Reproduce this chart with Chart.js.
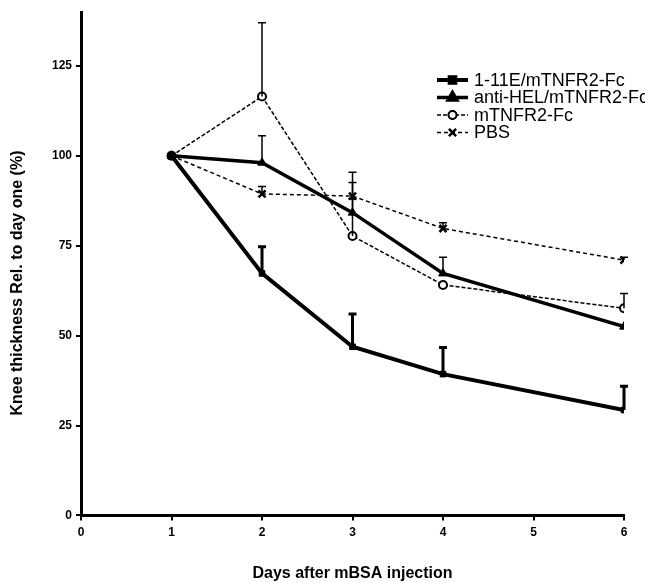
<!DOCTYPE html>
<html>
<head>
<meta charset="utf-8">
<script src="https://cdn.jsdelivr.net/npm/chart.js@4.4.1/dist/chart.umd.min.js"></script>
<style>
  html, body { margin: 0; padding: 0; background: #fff; }
  #wrap { width: 645px; height: 583px; }
</style>
</head>
<body>
<div id="wrap"><canvas id="chart" width="645" height="583"></canvas></div>
<script>
// days measured
const days = [1, 2, 3, 4, 6];

// knee thickness relative to day one (%)
const antibodyFusion = [100, 67.3, 46.9, 39.3, 29.3];
const antiHelFusion = [100, 98.1, 84.2, 67.3, 52.5];
const fusionOnly = [100, 116.5, 77.7, 64.1, 57.6];
const pbs = [100, 89.4, 88.8, 79.8, 71];

// upper end of each error bar (null = none drawn)
const antibodyFusionErr = [null, 74.7, 56, 46.7, 35.9];
const antiHelFusionErr = [null, 105.6, 92.6, 71.8, null];
const fusionOnlyErr = [null, 137, 88, null, 61.7];
const pbsErr = [null, 91.5, 95.4, 81.4, 71.8];

const yTicks = [0, 25, 50, 75, 100, 125];
const xTicks = [0, 1, 2, 3, 4, 5, 6];

const seriesNames = ['1-11E/mTNFR2-Fc', 'anti-HEL/mTNFR2-Fc', 'mTNFR2-Fc', 'PBS'];
const yTitle = 'Knee thickness Rel. to day one (%)';

const FONT = '"Liberation Sans", Arial, sans-serif';
const toPoints = vals => vals.map((v, i) => ({ x: days[i], y: v }));

const errorBars = {
  id: 'errorBars',
  afterDatasetsDraw(chart) {
    const { ctx, scales: { x, y } } = chart;
    chart.data.datasets.forEach(ds => {
      ds.errTop.forEach((top, i) => {
        if (top == null) return;
        const px = x.getPixelForValue(days[i]);
        const py = y.getPixelForValue(ds.data[i].y);
        const pt = y.getPixelForValue(top);
        ctx.save();
        ctx.strokeStyle = '#000';
        ctx.lineWidth = ds.errWidth;
        ctx.beginPath();
        ctx.moveTo(px, py);
        ctx.lineTo(px, pt);
        ctx.moveTo(px - 4, pt);
        ctx.lineTo(px + 4, pt);
        ctx.stroke();
        ctx.restore();
      });
    });
  }
};

// legend drawn as line + marker + label, and the y title sitting a bit low like the original
const extras = {
  id: 'extras',
  afterDraw(chart) {
    const { ctx } = chart;
    const x0 = 437, x1 = 468, rowY = [80, 97.5, 115, 132.5];
    chart.data.datasets.forEach((ds, i) => {
      const yy = rowY[i];
      ctx.save();
      ctx.strokeStyle = '#000';
      ctx.lineWidth = ds.borderWidth;
      ctx.setLineDash(ds.borderDash || []);
      ctx.beginPath();
      ctx.moveTo(x0, yy);
      ctx.lineTo(x1, yy);
      ctx.stroke();
      ctx.setLineDash([]);
      Chart.helpers.drawPoint(ctx, {
        pointStyle: ds.pointStyle,
        radius: ds.pointRadius,
        borderWidth: ds.pointBorderWidth,
        rotation: 0
      }, (x0 + x1) / 2, yy);
      ctx.fillStyle = ds.pointBackgroundColor;
      ctx.strokeStyle = '#000';
      ctx.lineWidth = ds.pointBorderWidth;
      if (ds.pointStyle !== 'crossRot') ctx.fill();
      ctx.stroke();
      ctx.fillStyle = '#000';
      ctx.font = '18px ' + FONT;
      ctx.textBaseline = 'middle';
      ctx.fillText(ds.label, x1 + 6, yy + 1);
      ctx.restore();
    });

    ctx.save();
    ctx.translate(18, 283);
    ctx.rotate(-Math.PI / 2);
    ctx.fillStyle = '#000';
    ctx.font = 'bold 16px ' + FONT;
    ctx.textAlign = 'center';
    ctx.textBaseline = 'middle';
    ctx.fillText(yTitle, 0, 0);
    ctx.restore();
  }
};

new Chart(document.getElementById('chart'), {
  type: 'line',
  data: {
    datasets: [
      {
        label: seriesNames[0],
        data: toPoints(antibodyFusion),
        errTop: antibodyFusionErr,
        errWidth: 3,
        borderColor: '#000',
        borderWidth: 4,
        pointStyle: 'rect',
        pointRadius: 4,
        pointBorderWidth: 1,
        pointBackgroundColor: '#000',
        pointBorderColor: '#000'
      },
      {
        label: seriesNames[1],
        data: toPoints(antiHelFusion),
        errTop: antiHelFusionErr,
        errWidth: 1.5,
        borderColor: '#000',
        borderWidth: 3.5,
        pointStyle: 'triangle',
        pointRadius: 5,
        pointBorderWidth: 1,
        pointBackgroundColor: '#000',
        pointBorderColor: '#000'
      },
      {
        label: seriesNames[2],
        data: toPoints(fusionOnly),
        errTop: fusionOnlyErr,
        errWidth: 1.5,
        borderColor: '#000',
        borderWidth: 1.5,
        borderDash: [4, 2],
        pointStyle: 'circle',
        pointRadius: 4,
        pointBorderWidth: 2,
        pointBackgroundColor: '#fff',
        pointBorderColor: '#000'
      },
      {
        label: seriesNames[3],
        data: toPoints(pbs),
        errTop: pbsErr,
        errWidth: 1.5,
        borderColor: '#000',
        borderWidth: 1.5,
        borderDash: [4, 3],
        pointStyle: 'crossRot',
        pointRadius: 5,
        pointBorderWidth: 2.5,
        pointBackgroundColor: '#000',
        pointBorderColor: '#000'
      }
    ]
  },
  options: {
    responsive: false,
    animation: false,
    layout: { padding: { top: 12, right: 21, left: 48, bottom: 0 } },
    plugins: {
      legend: { display: false },
      tooltip: { enabled: false }
    },
    scales: {
      x: {
        type: 'linear',
        min: 0,
        max: 6,
        afterBuildTicks: scale => { scale.ticks = xTicks.map(v => ({ value: v })); },
        grid: { drawOnChartArea: false, drawTicks: true, tickLength: 5, color: '#000', lineWidth: 2 },
        border: { display: true, color: '#000', width: 3 },
        ticks: {
          color: '#000',
          padding: 5,
          font: { family: FONT, size: 12, weight: 'bold' }
        },
        title: {
          display: true,
          text: 'Days after mBSA injection',
          color: '#000',
          padding: { top: 19, bottom: 0 },
          font: { family: FONT, size: 16, weight: 'bold' }
        }
      },
      y: {
        min: 0,
        max: 140,
        afterBuildTicks: scale => { scale.ticks = yTicks.map(v => ({ value: v })); },
        grid: { drawOnChartArea: false, drawTicks: true, tickLength: 5, color: '#000', lineWidth: 2 },
        border: { display: true, color: '#000', width: 3 },
        ticks: {
          color: '#000',
          padding: 4,
          font: { family: FONT, size: 12, weight: 'bold' }
        }
      }
    }
  },
  plugins: [errorBars, extras]
});
</script>
</body>
</html>
